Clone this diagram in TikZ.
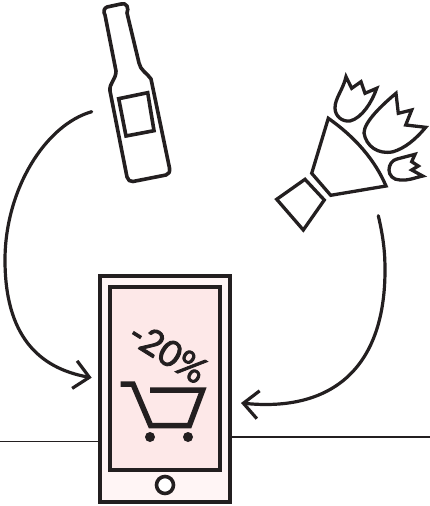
\documentclass[tikz,border=0pt]{standalone}
\usepackage{fontspec}
\setmainfont{Lato}
\newfontfamily\discfont[FakeBold=2.5]{Lato}
\usetikzlibrary{arrows.meta}
\definecolor{ink}{HTML}{231F20}
\definecolor{caseC}{HTML}{FFF5F5}
\definecolor{screenC}{HTML}{FDE8E8}
\tikzset{
 outline/.style={draw=ink,line width=3.6pt,line join=round,line cap=butt},
 thinout/.style={outline,line width=3.3pt,line join=miter},
 curve/.style={draw=ink,line width=3.2pt,line cap=round,-{Straight Barb[length=15pt,width=28pt,line width=3.2pt]}},
 floorline/.style={draw=ink,line width=1.7pt},
 wheel/.style={circle,fill=ink,inner sep=0pt,minimum size=10pt},
}
\begin{document}
\begin{tikzpicture}[x=1pt,y=-1pt]
\useasboundingbox (0,0) rectangle (430,506);
\coordinate (fl1) at (0,441.5); \coordinate (fr2) at (430,436.7);
\node[outline,line width=3.8pt,fill=caseC,rectangle,inner sep=0pt,minimum width=129.5pt,minimum height=226pt,line join=miter] (phone) at (165,389) {};
\node[outline,line width=3.8pt,fill=screenC,rectangle,inner sep=0pt,minimum width=110pt,minimum height=183pt,line join=miter] (screen) at (165,378.3) {};
\node[outline,circle,inner sep=0pt,minimum size=17pt,fill=white] (home) at (165,485) {};
\draw[floorline] (fl1) -- (fl1-|phone.west);
\draw[floorline] (fr2-|phone.east) -- (fr2);
% bottle
\draw[outline] (105,15) .. controls (103,12) and (104,8) .. (107,7) -- (121,4) .. controls (124,3) and (125,4) .. (127,6) .. controls (128,8) and (128,11) .. (127,13)
 -- (139,63) .. controls (140,70) and (148,74) .. (151,79)
 -- (169.5,168) .. controls (170,172) and (169,174) .. (166,175)
 -- (133,181.5) .. controls (130,182) and (128,180) .. (127,177)
 -- (110,91) .. controls (109,83) and (116,80) .. (116,71)
 -- cycle;
\draw[outline,line join=miter] (118.7,98.7) -- (147.7,92.7) -- (154,130.7) -- (126,136) -- cycle;
% bouquet
\draw[thinout] (328.3,118.3) .. controls (355,137) and (375,160) .. (386,186) -- (330.7,195.3) -- (311.7,173.3) -- cycle;
\draw[thinout] (305,179.3) -- (324.3,200) -- (303.3,230) -- (276.7,199.3) -- cycle;
\draw[thinout] (346,76.7) -- (351.7,88.3) -- (361,81.7) -- (365,93.3) -- (376.7,88.3) .. controls (372,102) and (362,118) .. (350,121) .. controls (342,122) and (335,116) .. (335,108) .. controls (335,98) and (343,90) .. cycle;
\draw[thinout] (396,93.3) -- (398.3,113.3) -- (411.7,110) -- (405.7,125) -- (425.7,127.3) .. controls (415,140) and (405,148) .. (393.3,151.7) .. controls (378,155) and (366,146) .. (364,133) .. controls (364,122) and (382,105) .. cycle;
\draw[thinout] (415,154.3) -- (411.7,161.7) -- (418.3,166) -- (411.7,170) -- (422.7,176) .. controls (414,178) and (407,181) .. (400,180) .. controls (393,180) and (389,175) .. (389,170) .. controls (389,165) and (392,160) .. (397,159) -- cycle;
% cart
\path[draw=ink,line width=5.5pt,line join=miter] (120.7,384) -- (133,384) -- (150.7,425.7) -- (189.3,425.7) -- (202.7,390) -- (150,390);
\node[wheel] (w1) at (150,437) {};
\node[wheel] (w2) at (188,437) {};
\node[rotate=-32,text=ink,font=\discfont\fontsize{36pt}{36pt}\selectfont,inner sep=0pt] (disc) at (168,352) {-20\%};
% arrows
\coordinate (a1) at (91.7,111.7); \coordinate (a2) at (91.7,377.7);
\coordinate (b1) at (378.3,215.7); \coordinate (b2) at (241,403);
\draw[curve] (a1) .. controls (45,125) and (5,190) .. (5,260) .. controls (5,335) and (38,368) .. (a2);
\draw[curve] (b1) .. controls (384,240) and (385,255) .. (385,270) .. controls (385,370) and (330,412) .. (b2);
\end{tikzpicture}
\end{document}
